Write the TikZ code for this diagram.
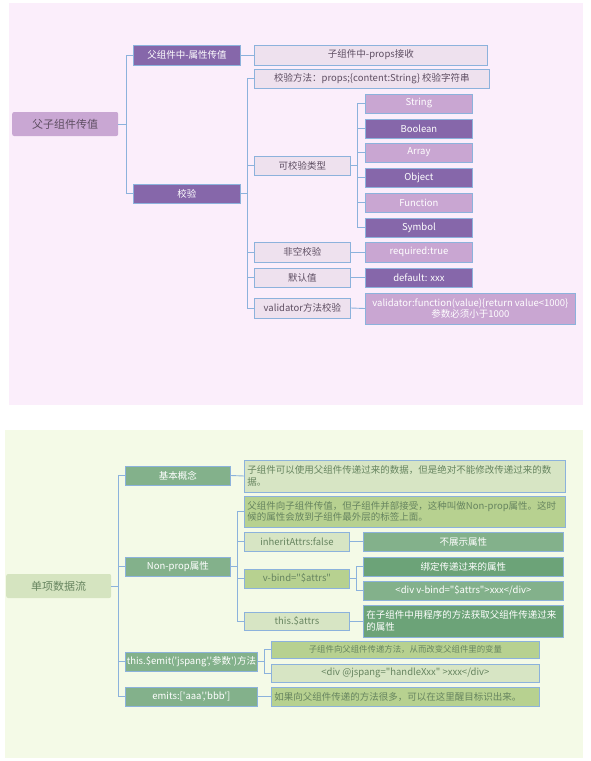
\documentclass[tikz,border=0pt]{standalone}
\usepackage{fontspec}
\setmainfont{Noto Sans CJK SC}[Ligatures=TeXOff]
\definecolor{linkblue}{HTML}{8CB2DC}
\definecolor{pubg}{HTML}{FBEEFB}
\definecolor{puroot}{HTML}{C9A7D3}
\definecolor{pudark}{HTML}{8667AA}
\definecolor{pulight}{HTML}{C9A6D2}
\definecolor{pupale}{HTML}{EEE1EE}
\definecolor{putext}{HTML}{5E4E62}
\definecolor{gnbg}{HTML}{F4FAE7}
\definecolor{gnroot}{HTML}{D5E4C0}
\definecolor{gndark}{HTML}{83B18B}
\definecolor{gndeep}{HTML}{6CA378}
\definecolor{gnpale}{HTML}{D7E5C4}
\definecolor{gnyellow}{HTML}{B7D190}
\definecolor{gntext}{HTML}{66845F}
\tikzset{
    mm box/.style={draw=linkblue, line width=0.8pt, inner sep=0pt,
                   anchor=west, align=center,
                   font=\fontsize{9.5}{11.5}\selectfont},
    mm root/.style={rounded corners=2pt, inner sep=0pt, anchor=west,
                    font=\fontsize{11}{13}\selectfont},
    mm sz/.style 2 args={minimum width=#1pt, minimum height=#2pt},
    mm para/.style={text width=#1pt, align=left, inner xsep=3pt},
    mm conn/.style={draw=linkblue, line width=0.9pt},
    % Purple tree
    pu root/.style={mm root, fill=puroot, text=putext},
    pu dark/.style={mm box, fill=pudark, text=white},
    pu light/.style={mm box, fill=pulight, text=white},
    pu pale/.style={mm box, fill=pupale, text=putext},
    % Green tree
    gn root/.style={mm root, fill=gnroot, text=gntext},
    gn dark/.style={mm box, fill=gndark, text=white},
    gn deep/.style={mm box, fill=gndeep, text=white},
    gn pale/.style={mm box, fill=gnpale, text=gntext},
    gn yellow/.style={mm box, fill=gnyellow, text=gntext},
}
\begin{document}
\begin{tikzpicture}[x=1pt, y=-1pt]
    \useasboundingbox (0,0) rectangle (591,761);
    % Backgrounds
    \fill[pubg] (9,3) rectangle (583,405);
    \fill[gnbg] (5,430) rectangle (583,758);

    % ---- Top tree ----
    \node[pu root, mm sz={106}{24}] (fz) at (12,124) {父子组件传值};
    \node[pu dark, mm sz={107}{20}] (fzsx) at (133,55) {父组件中-属性传值};
    \node[pu dark, mm sz={107}{19}] (jy) at (133,193.5) {校验};
    \node[pu pale, mm sz={233}{20}] (zprops) at (254,55) {子组件中-props接收};
    \node[pu pale, mm sz={235}{19}] (jyff) at (254,78.5)
        {校验方法：props;\{content:String\}\ 校验字符串};
    \node[pu pale, mm sz={96}{19}] (kjy) at (254,165.5) {可校验类型};
    \node[pu pale, mm sz={96}{20}] (fk) at (254,252) {非空校验};
    \node[pu pale, mm sz={96}{19}] (mr) at (254,277.5) {默认值};
    \node[pu pale, mm sz={96}{20}] (vd) at (254,308) {validator方法校验};
    % Types
    \node[pu light, mm sz={107}{19}] (tstr) at (365,103.5) {String};
    \node[pu dark, mm sz={107}{19}] (tbool) at (365,128.5) {Boolean};
    \node[pu light, mm sz={107}{19}] (tarr) at (365,152.5) {Array};
    \node[pu dark, mm sz={107}{19}] (tobj) at (365,177.5) {Object};
    \node[pu light, mm sz={107}{19}] (tfun) at (365,202.5) {Function};
    \node[pu dark, mm sz={107}{19}] (tsym) at (365,227.5) {Symbol};
    \node[pu light, mm sz={107}{20}] (req) at (365,252) {required:true};
    \node[pu dark, mm sz={107}{19}] (dft) at (365,277.5) {default: xxx};
    \node[pu light, mm sz={210}{31}] (vdfn) at (365,308.5)
        {validator:function(value)\{return value<1000\}\\参数必须小于1000};
    % Connectors
    \draw[mm conn] (fz.east) -- ++(8,0) |- (fzsx.west);
    \draw[mm conn] (fz.east) -- ++(8,0) |- (jy.west);
    \draw[mm conn] (fzsx.east) -- (zprops.west);
    \foreach \c in {jyff,kjy,fk,mr,vd}
        \draw[mm conn] (jy.east) -- ++(7,0) |- (\c.west);
    \foreach \c in {tstr,tbool,tarr,tobj,tfun,tsym}
        \draw[mm conn] (kjy.east) -- ++(7,0) |- (\c.west);
    \draw[mm conn] (fk.east) -- (req.west);
    \draw[mm conn] (mr.east) -- (dft.west);
    \draw[mm conn] (vd.east) -- (vdfn.west);

    % ---- Bottom tree ----
    \node[gn root, mm sz={105}{24}] (dx) at (6,586) {单项数据流};
    \node[gn dark, mm sz={105}{19}] (jbgn) at (125,475.5) {基本概念};
    \node[gn dark, mm sz={105}{19}] (np) at (125,566.5) {Non-prop属性};
    \node[gn dark, mm sz={132}{19}] (emit) at (125,661.5)
        {this.\$emit('jspang','参数')方法};
    \node[gn dark, mm sz={132}{19}] (emits) at (125,696.5)
        {emits:['aaa','bbb']};
    \node[gn pale, mm sz={321}{32}, mm para=315] (jbtx) at (244,476)
        {子组件可以使用父组件传递过来的数据，但是绝对不能修改传递过来的数\\据。};
    \node[gn yellow, mm sz={321}{31}, mm para=315] (nptx) at (244,511.5)
        {父组件向子组件传值，但子组件并部接受，这种叫做Non-prop属性。这时\\候的属性会放到子组件最外层的标签上面。};
    \node[gn pale, mm sz={105}{19}] (inh) at (244,541.5) {inheritAttrs:false};
    \node[gn yellow, mm sz={105}{19}] (vb) at (244,578.5) {v-bind="\$attrs"};
    \node[gn pale, mm sz={105}{18}] (ta) at (244,621) {this.\$attrs};
    \node[gn dark, mm sz={200}{19}] (bzs) at (363,541.5) {不展示属性};
    \node[gn deep, mm sz={200}{19}] (bd) at (363,566.5) {绑定传递过来的属性};
    \node[gn dark, mm sz={200}{19}] (bddiv) at (363,590.5)
        {<div v-bind="\$attrs">xxx</div>};
    \node[gn deep, mm sz={200}{32}, mm para=194] (tatx) at (363,621)
        {在子组件中用程序的方法获取父组件传递过来\\的属性};
    \node[gn yellow, mm sz={268}{17},
          font=\fontsize{8.4}{10}\selectfont] (emtx) at (271,649.5)
        {子组件向父组件传递方法，从而改变父组件里的变量};
    \node[gn pale, mm sz={268}{18}] (emdiv) at (271,673)
        {<div @jspang="handleXxx" >xxx</div>};
    \node[gn yellow, mm sz={268}{19}, mm para=262] (emstx) at (271,696.5)
        {如果向父组件传递的方法很多，可以在这里醒目标识出来。};
    % Connectors
    \foreach \c in {jbgn,np,emit,emits}
        \draw[mm conn] (dx.east) -- ++(7,0) |- (\c.west);
    \draw[mm conn] (jbgn.east) -- (jbtx.west);
    \foreach \c in {nptx,inh,vb,ta}
        \draw[mm conn] (np.east) -- ++(7,0) |- (\c.west);
    \draw[mm conn] (inh.east) -- (bzs.west);
    \foreach \c in {bd,bddiv}
        \draw[mm conn] (vb.east) -- ++(7,0) |- (\c.west);
    \draw[mm conn] (ta.east) -- (tatx.west);
    \foreach \c in {emtx,emdiv}
        \draw[mm conn] (emit.east) -- ++(7,0) |- (\c.west);
    \draw[mm conn] (emits.east) -- (emstx.west);
\end{tikzpicture}
\end{document}
